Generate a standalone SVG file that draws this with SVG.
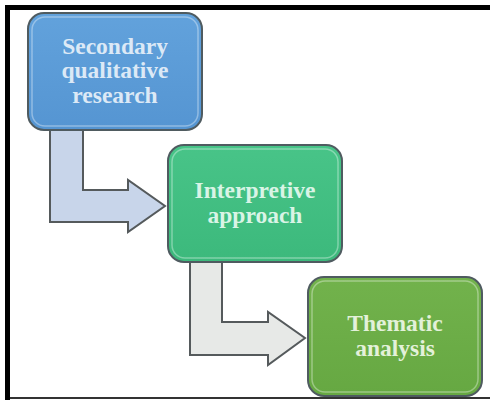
<svg xmlns="http://www.w3.org/2000/svg" width="490" height="400" viewBox="0 0 490 400">
  <style>
    .box { stroke: #4f5b60; stroke-width: 2; }
    .bevel { fill: none; stroke: #ffffff; stroke-opacity: 0.35; stroke-width: 1.5; }
    .arrow { stroke: #555a5c; stroke-width: 2; stroke-linejoin: miter; }
    .label { font-family: "Liberation Serif", "Times New Roman", serif; font-weight: bold; font-size: 23.5px; text-anchor: middle; }
  </style>
  <defs>
    <linearGradient id="gBlue" x1="0" y1="0" x2="0" y2="1">
      <stop offset="0" stop-color="#62a2dc"/>
      <stop offset="1" stop-color="#5595d2"/>
    </linearGradient>
    <linearGradient id="gTeal" x1="0" y1="0" x2="0" y2="1">
      <stop offset="0" stop-color="#48c488"/>
      <stop offset="1" stop-color="#3cb97c"/>
    </linearGradient>
    <linearGradient id="gGreen" x1="0" y1="0" x2="0" y2="1">
      <stop offset="0" stop-color="#72b24c"/>
      <stop offset="1" stop-color="#66a842"/>
    </linearGradient>
  </defs>

  <rect width="490" height="400" fill="#ffffff"/>

  <!-- page frame -->
  <g id="frame" fill="#000000">
    <rect x="5" y="5" width="485" height="5"/>
    <rect x="5" y="5" width="5" height="395"/>
    <rect x="10" y="397" width="480" height="2" fill="#333333"/>
  </g>

  <!-- connectors -->
  <g id="connectors">
    <path class="arrow" fill="#c8d5ea" d="M50,128 L83,128 L83,190 L128,190 L128,180 L165,206 L128,232 L128,222 L50,222 Z"/>
    <path class="arrow" fill="#e7e9e7" d="M190,260 L222,260 L222,322 L268,322 L268,312 L305,338 L268,365 L268,355 L190,355 Z"/>
  </g>

  <g id="node-secondary">
    <rect class="box" x="28" y="13" width="174" height="117" rx="16" fill="url(#gBlue)"/>
    <rect class="bevel" x="32" y="17" width="166" height="109" rx="13"/>
    <text class="label" fill="#dce9f6" x="115" y="54">Secondary</text>
    <text class="label" fill="#dce9f6" x="115" y="78">qualitative</text>
    <text class="label" fill="#dce9f6" x="115" y="103">research</text>
  </g>

  <g id="node-interpretive">
    <rect class="box" x="168" y="145" width="174" height="117" rx="16" fill="url(#gTeal)"/>
    <rect class="bevel" x="172" y="149" width="166" height="109" rx="13"/>
    <text class="label" fill="#d9f4e6" x="255" y="198">Interpretive</text>
    <text class="label" fill="#d9f4e6" x="255" y="223">approach</text>
  </g>

  <g id="node-thematic">
    <rect class="box" x="308" y="277" width="174" height="119" rx="16" fill="url(#gGreen)"/>
    <rect class="bevel" x="312" y="281" width="166" height="111" rx="13"/>
    <text class="label" fill="#e3f1da" x="395" y="331">Thematic</text>
    <text class="label" fill="#e3f1da" x="395" y="356">analysis</text>
  </g>
</svg>
